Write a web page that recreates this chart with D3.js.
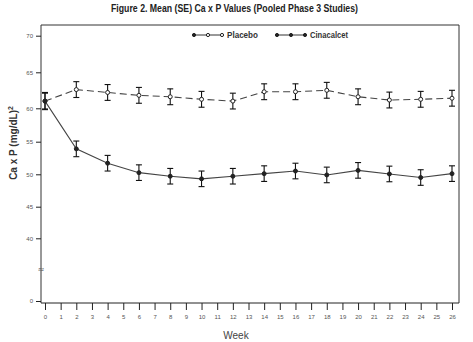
<!DOCTYPE html>
<html><head><meta charset="utf-8">
<script src="https://cdn.jsdelivr.net/npm/d3@7"></script>
<style>body{margin:0;background:#fff}svg{display:block}</style>
</head><body>
<script>
const weeks = [0,2,4,6,8,10,12,14,16,18,20,22,24,26];
const placebo = [61.0,62.6,62.2,61.8,61.6,61.25,61.0,62.3,62.3,62.5,61.6,61.15,61.25,61.4];
const placeboSE = [1.1,1.1,1.1,1.1,1.1,1.1,1.1,1.1,1.1,1.1,1.1,1.1,1.1,1.1];
const cinacalcet = [61.0,53.9,51.7,50.25,49.7,49.3,49.7,50.1,50.5,49.9,50.6,50.05,49.5,50.1];
const cinacalcetSE = [1.2,1.2,1.2,1.2,1.2,1.2,1.2,1.2,1.2,1.2,1.2,1.2,1.2,1.2];
const xTicks = d3.range(0,27);
const yTicks = [0,40,45,50,55,60,65,70];
const title = "Figure 2. Mean (SE) Ca x P Values (Pooled Phase 3 Studies)";
const yLabel = "Ca x P (mg/dL)";
const xLabel = "Week";

const W=473,H=342;
const FONT="Liberation Sans Narrow, Arial Narrow, Liberation Sans, sans-serif";
const svg=d3.select("body").append("svg").attr("width",W).attr("height",H);
const L=41,R=459,T=25,B=303;
const x=d3.scaleLinear().domain([0,26]).range([45,452]);
const y=d3.scaleLinear().domain([0,40,45,50,55,60,65,70]).range([301,238.3,206.7,174.3,141.7,108.3,72.3,35.7]);

svg.append("text").attr("x",111).attr("y",12)
  .attr("font-family",FONT).attr("font-weight","bold")
  .attr("font-size",11.5).attr("fill","#222")
  .attr("textLength",247).attr("lengthAdjust","spacingAndGlyphs").text(title);

// frame
svg.append("path").attr("d",`M${L},${B}V${T}H${R}V${B}`).attr("fill","none").attr("stroke","#333").attr("stroke-width",1);
svg.append("line").attr("x1",L).attr("x2",R).attr("y1",B).attr("y2",B).attr("stroke","#222");

// y axis
const yAxis=d3.axisLeft(y).tickValues(yTicks).tickSize(5).tickPadding(3);
const gy=svg.append("g").attr("transform",`translate(${L},0)`).call(yAxis);
gy.select(".domain").remove();
gy.selectAll("text").attr("font-family",FONT).attr("font-size",6).attr("fill","#555");
gy.selectAll("line").attr("stroke","#222");
// axis break marker
svg.append("text").attr("x",L).attr("y",272).attr("text-anchor","middle").attr("font-size",8)
  .attr("font-family","DejaVu Sans").attr("fill","#555").text("≈");

// x axis
const xAxis=d3.axisBottom(x).tickValues(xTicks).tickSize(7).tickPadding(5);
const gx=svg.append("g").attr("transform",`translate(0,${B})`).call(xAxis);
gx.select(".domain").remove();
gx.selectAll("text").attr("font-family",FONT).attr("font-size",6).attr("fill","#555");
gx.selectAll("line").attr("stroke","#222");

svg.append("text").attr("x",236).attr("y",339).attr("text-anchor","middle")
  .attr("font-family",FONT).attr("font-size",10).attr("fill","#444").text(xLabel);

const yl=svg.append("text").attr("transform","translate(17,143) rotate(-90)").attr("text-anchor","middle")
  .attr("font-family",FONT).attr("font-weight","bold").attr("font-size",10).attr("fill","#333");
yl.append("tspan").text(yLabel);
yl.append("tspan").attr("dy",-4).attr("font-size",7).text("2");

function series(vals,se,dash,filled){
  const data=weeks.map((w,i)=>({w,v:vals[i],s:se[i]}));
  const g=svg.append("g");
  g.append("path").datum(data).attr("fill","none").attr("stroke","#444").attr("stroke-width",1.1)
    .attr("stroke-dasharray",dash).attr("d",d3.line().x(d=>x(d.w)).y(d=>y(d.v)));
  const eb=g.selectAll(".eb").data(data).join("g").attr("stroke","#111").attr("stroke-width",1.1);
  eb.append("line").attr("x1",d=>x(d.w)).attr("x2",d=>x(d.w)).attr("y1",d=>y(d.v-d.s)).attr("y2",d=>y(d.v+d.s));
  eb.append("line").attr("x1",d=>x(d.w)-3).attr("x2",d=>x(d.w)+3).attr("y1",d=>y(d.v+d.s)).attr("y2",d=>y(d.v+d.s));
  eb.append("line").attr("x1",d=>x(d.w)-3).attr("x2",d=>x(d.w)+3).attr("y1",d=>y(d.v-d.s)).attr("y2",d=>y(d.v-d.s));
  g.selectAll("circle").data(data).join("circle").attr("cx",d=>x(d.w)).attr("cy",d=>y(d.v)).attr("r",2)
    .attr("fill",filled?"#222":"#fff").attr("stroke","#222").attr("stroke-width",1);
}
series(placebo,placeboSE,"7,4",false);
series(cinacalcet,cinacalcetSE,null,true);

// legend
function legend(x0,label,filled,tx,tw){
  const g=svg.append("g");
  g.append("line").attr("x1",x0).attr("x2",x0+29).attr("y1",35).attr("y2",35).attr("stroke","#333");
  [0,14,28].forEach((dx,i)=>g.append("circle").attr("cx",x0+1+dx).attr("cy",35).attr("r",1.6)
     .attr("fill",(filled||i===0)?"#222":"#fff").attr("stroke","#222"));
  g.append("text").attr("x",tx).attr("y",38).attr("font-family",FONT)
    .attr("font-weight","bold").attr("font-size",8.5).attr("fill","#333")
    .attr("textLength",tw).attr("lengthAdjust","spacingAndGlyphs").text(label);
}
legend(193,"Placebo",false,227,31);
legend(276,"Cinacalcet",true,310,38);
</script>
</body></html>
